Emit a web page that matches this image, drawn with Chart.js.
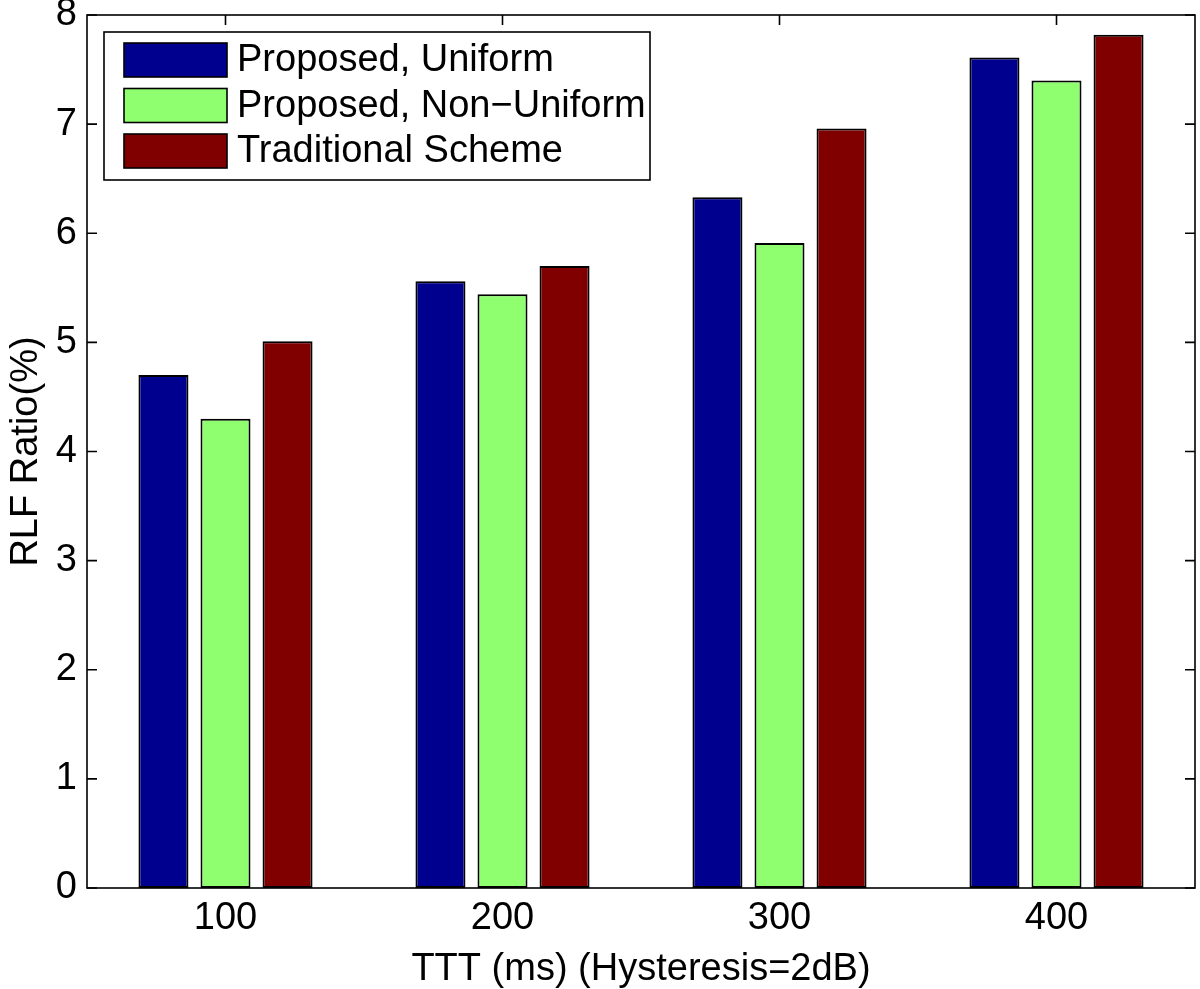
<!DOCTYPE html>
<html>
<head>
<meta charset="utf-8">
<script src="https://cdn.jsdelivr.net/npm/chart.js@4.4.1/dist/chart.umd.min.js"></script>
<style>
  html, body { margin: 0; padding: 0; background: #fff; }
  #wrap { width: 1200px; height: 989px; }
</style>
</head>
<body>
<div id="wrap"><canvas id="rlf-chart" width="1200" height="989"></canvas></div>
<script>
// ─── Data ─────────────────────────────────────────────────────────────────────

const categories = ["100", "200", "300", "400"];
const proposedUniform = [4.70, 5.56, 6.33, 7.61];
const proposedNonUniform = [4.30, 5.44, 5.91, 7.40];
const traditionalScheme = [5.01, 5.70, 6.96, 7.82];
const yTicks = [0, 1, 2, 3, 4, 5, 6, 7, 8];

const seriesNames = ["Proposed, Uniform", "Proposed, Non\u2212Uniform", "Traditional Scheme"];
const seriesColors = ["#00008F", "#8FFF70", "#800000"];

const FONT = "'Liberation Sans', Arial, Helvetica, sans-serif";

// ─── Plugins: MATLAB-style box, inward ticks, inset legend ───────────────────

const boxAndTicks = {
  id: "boxAndTicks",
  // ticks go under the bars (hidden behind the middle bar at the bottom)
  beforeDatasetsDraw(chart) {
    const { ctx, chartArea: a, scales } = chart;
    const len = 10;
    ctx.save();
    ctx.strokeStyle = "#000";
    ctx.lineWidth = 1.6;
    ctx.beginPath();
    yTicks.forEach((v) => {
      const y = scales.y.getPixelForValue(v);
      ctx.moveTo(a.left, y); ctx.lineTo(a.left + len, y);
      ctx.moveTo(a.right, y); ctx.lineTo(a.right - len, y);
    });
    categories.forEach((c, i) => {
      const x = scales.x.getPixelForValue(i);
      ctx.moveTo(x, a.bottom); ctx.lineTo(x, a.bottom - len);
      ctx.moveTo(x, a.top); ctx.lineTo(x, a.top + len);
    });
    ctx.stroke();
    ctx.restore();
  },
  afterDatasetsDraw(chart) {
    const { ctx, chartArea: a } = chart;
    ctx.save();
    ctx.strokeStyle = "#000";
    ctx.lineWidth = 1.6;
    ctx.strokeRect(a.left, a.top, a.right - a.left, a.bottom - a.top);
    ctx.restore();
  },
};

const insetLegend = {
  id: "insetLegend",
  afterDraw(chart) {
    const { ctx, chartArea: a } = chart;
    const bx = a.left + 17, by = a.top + 17;
    const bw = 546, bh = 148;
    const rowH = 45.5;
    ctx.save();
    ctx.fillStyle = "#fff";
    ctx.fillRect(bx, by, bw, bh);
    ctx.strokeStyle = "#000";
    ctx.lineWidth = 1.6;
    ctx.strokeRect(bx, by, bw, bh);
    ctx.font = `38px ${FONT}`;
    ctx.textBaseline = "middle";
    chart.data.datasets.forEach((ds, i) => {
      const sy = by + 11 + i * rowH;
      ctx.fillStyle = ds.backgroundColor;
      ctx.fillRect(bx + 20, sy, 103, 34);
      ctx.strokeRect(bx + 20, sy, 103, 34);
      ctx.fillStyle = "#000";
      ctx.fillText(ds.label, bx + 133, sy + 18);
    });
    ctx.restore();
  },
};

// ─── Chart ────────────────────────────────────────────────────────────────────

const datasets = [proposedUniform, proposedNonUniform, traditionalScheme].map((data, i) => ({
  label: seriesNames[i],
  data,
  backgroundColor: seriesColors[i],
  borderColor: "#000",
  borderWidth: 2,
  borderSkipped: false,
  categoryPercentage: 0.672,
  barPercentage: 0.806,
}));

new Chart(document.getElementById("rlf-chart"), {
  type: "bar",
  data: { labels: categories, datasets },
  options: {
    responsive: false,
    animation: false,
    devicePixelRatio: 1,
    layout: { padding: { top: 15, right: 5, left: 0, bottom: 0 } },
    plugins: {
      legend: { display: false },
      tooltip: { enabled: false },
    },
    scales: {
      x: {
        grid: { display: false, drawTicks: false },
        border: { display: false },
        ticks: {
          color: "#000",
          font: { family: FONT, size: 38 },
          padding: 8,
          maxRotation: 0,
        },
        title: {
          display: true,
          text: "TTT (ms) (Hysteresis=2dB)",
          color: "#000",
          font: { family: FONT, size: 38, lineHeight: 1 },
          padding: { top: 3, bottom: 0 },
        },
        afterFit: (s) => { s.height = 101; s.paddingLeft = 0; s.paddingRight = 0; },
      },
      y: {
        min: 0,
        max: 8,
        grid: { display: false, drawTicks: false },
        border: { display: false },
        afterBuildTicks: (s) => { s.ticks = yTicks.map((v) => ({ value: v })); },
        ticks: {
          color: "#000",
          font: { family: FONT, size: 38 },
          padding: 10,
        },
        title: {
          display: true,
          text: "RLF Ratio(%)",
          color: "#000",
          font: { family: FONT, size: 38, lineHeight: 1 },
          padding: { top: 8, bottom: 0 },
        },
        afterFit: (s) => { s.width = 87; s.paddingTop = 0; s.paddingBottom = 0; },
      },
    },
  },
  plugins: [boxAndTicks, insetLegend],
});
</script>
</body>
</html>
